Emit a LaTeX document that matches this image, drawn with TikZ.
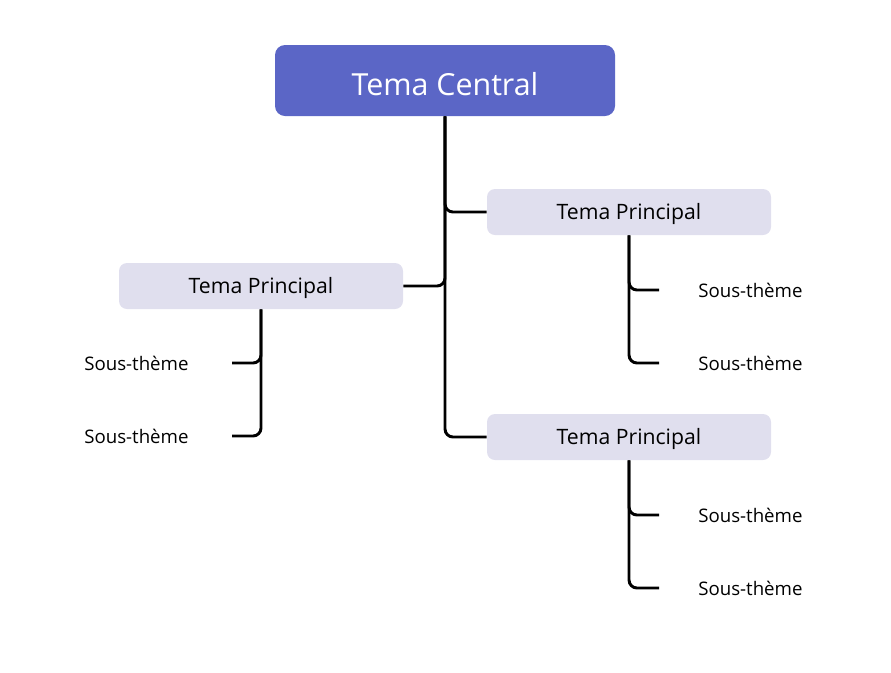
\documentclass[tikz,border=0pt]{standalone}
\usepackage{fontspec}
\setmainfont{Open Sans}
\definecolor{central}{HTML}{5B66C6}
\definecolor{principal}{HTML}{E0DFEE}
\begin{document}
\begin{tikzpicture}[x=0.75pt,y=-0.75pt,
  centralbox/.style={fill=central,rounded corners=7.5pt,text=white,minimum width=255pt,minimum height=53.25pt,font=\fontsize{22.8}{26}\selectfont,inner sep=0pt,text height=21.8pt,text depth=0pt},
  principalbox/.style={fill=principal,rounded corners=6pt,text=black,minimum width=213pt,minimum height=34.5pt,font=\fontsize{15.9}{19}\selectfont,inner sep=0pt,text height=15.1pt,text depth=3.8pt},
  soustext/.style={anchor=west,inner sep=0pt,font=\fontsize{14}{17}\selectfont},
  link/.style={line width=2.2pt,rounded corners=6pt,draw=black}]
\useasboundingbox (0,0) rectangle (891,672);
\node[centralbox] (c) at (445,80.5) {Tema Central};
\node[principalbox] (p1) at (629,212) {Tema Principal};
\node[principalbox] (pl) at (261,286) {Tema Principal};
\node[principalbox] (p3) at (629,437) {Tema Principal};
\node[soustext] (s11) at (698,290) {Sous-thème};
\node[soustext] (s12) at (698,363) {Sous-thème};
\node[soustext] (s31) at (698,515) {Sous-thème};
\node[soustext] (s32) at (698,588) {Sous-thème};
\node[soustext] (sl1) at (84,363) {Sous-thème};
\node[soustext] (sl2) at (84,436) {Sous-thème};
\coordinate (e11) at (659,290);
\coordinate (e12) at (659,363);
\coordinate (e31) at (659,515);
\coordinate (e32) at (659,588);
\coordinate (el1) at (232,363);
\coordinate (el2) at (232,436);
\draw[link] (c.south) |- (p1.west);
\draw[link] (c.south) |- (pl.east);
\draw[link] (c.south) |- (p3.west);
\draw[link] (p1.south) |- (e11);
\draw[link] (p1.south) |- (e12);
\draw[link] (p3.south) |- (e31);
\draw[link] (p3.south) |- (e32);
\draw[link] (pl.south) |- (el1);
\draw[link] (pl.south) |- (el2);
\end{tikzpicture}
\end{document}
